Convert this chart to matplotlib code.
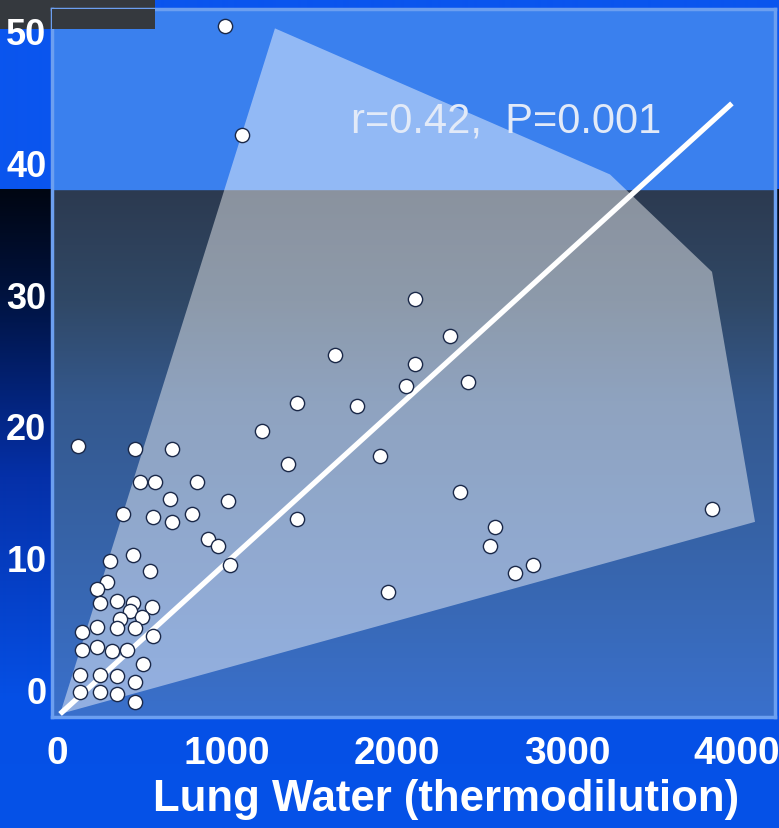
import numpy as np
import matplotlib
matplotlib.use("Agg")
import matplotlib.pyplot as plt
from matplotlib.colors import to_rgb
from matplotlib.patches import Polygon, Rectangle

# scatter: lung water (thermodilution) vs second measure
lung_water = [988, 1088, 124, 459, 676, 488, 576, 824, 665, 1006, 388, 565, 676, 794,
              888, 947, 1018, 1412, 1765, 1206, 1359, 1900, 2371, 1412, 1947, 1635,
              2106, 2312, 2106, 2053, 2418, 2576, 2547, 2694, 2800, 3853,
              447, 312, 547, 294, 235, 253, 353, 447, 559, 429, 371, 500, 147, 235,
              353, 459, 565, 147, 235, 324, 412, 506, 135, 253, 353, 459, 135, 253,
              353, 459]
other = [50.4, 42.1, 18.5, 18.2, 18.2, 15.7, 15.7, 15.7, 14.4, 14.3, 13.3, 13.1, 12.7, 13.3,
         11.4, 10.9, 9.4, 21.7, 21.5, 19.6, 17.1, 17.7, 15.0, 12.9, 7.4, 25.4,
         29.6, 26.8, 24.7, 23.0, 23.3, 12.3, 10.9, 8.8, 9.4, 13.7,
         10.2, 9.7, 9.0, 8.1, 7.6, 6.5, 6.7, 6.5, 6.2, 5.9, 5.3, 5.5, 4.3, 4.7,
         4.6, 4.6, 4.0, 3.0, 3.2, 2.9, 3.0, 1.9, 1.1, 1.1, 1.0, 0.5, -0.2, -0.2,
         -0.4, -1.0]

# shaded envelope around the points
hull_x = [18, 1282, 3253, 3853, 4106]
hull_y = [-1.9, 50.2, 39.1, 31.7, 12.7]

# regression line
fit_slope = 0.01174
fit_icpt = -2.11
fit_range = [18, 3970]

x_ticks = [0, 1000, 2000, 3000, 4000]
y_ticks = [0, 10, 20, 30, 40, 50]
stat_text = "r=0.42,  P=0.001"


def ramp(stops, n):
    pos = np.array([s[0] for s in stops])
    cols = np.array([to_rgb(s[1]) for s in stops])
    t = np.linspace(0, 1, n)
    return np.stack([np.interp(t, pos, cols[:, i]) for i in range(3)], axis=1)


W, H = 779, 829
fig = plt.figure(figsize=(W / 100, H / 100), dpi=100, facecolor="#0650e6")

# figure background: bright blue on top, dark-to-blue ramp below
bg = fig.add_axes([0, 0, 1, 1], zorder=0)
rows = np.zeros((H, 3))
rows[:190] = to_rgb("#0a55ee")
rows[190:] = ramp([(0, "#000612"), (0.15, "#00113a"), (0.45, "#0530a8"),
                   (0.8, "#0550e6"), (1, "#0652e8")], H - 190)
bg.imshow(rows[:, None, :], extent=[0, 1, 0, 1], aspect="auto", interpolation="bilinear")
bg.set_xlim(0, 1)
bg.set_ylim(0, 1)
# dark scrap in the top-left corner
bg.add_patch(Rectangle((0, 1 - 30 / H), 155 / W, 30 / H, fc="#35393e", ec="none"))
bg.axis("off")

L, R, T, B = 52, 775, 10, 718
ax = fig.add_axes([L / W, 1 - B / H, (R - L) / W, (B - T) / H], zorder=1)
x0, x1 = (L - 57) / 0.17, (R - 57) / 0.17
y0, y1 = (690 - B) / 13.16, (690 - T) / 13.16
band = (690 - 190) / 13.16
ax.set_xlim(x0, x1)
ax.set_ylim(y0, y1)

grad = ramp([(0, "#2c3a50"), (0.21, "#304866"), (0.4, "#34588c"),
             (0.78, "#3868b4"), (1, "#3a70cc")], 200)
ax.imshow(grad[:, None, :], extent=[x0, x1, y0, band], aspect="auto",
          interpolation="bilinear", zorder=0)
ax.axhspan(band, y1, color="#3a80ee", zorder=0)

ax.add_patch(Polygon(np.column_stack([hull_x, hull_y]), closed=True,
                     fc="white", alpha=0.45, ec="none", zorder=1))

fx = np.array(fit_range)
ax.plot(fx, fit_icpt + fit_slope * fx, color="white", lw=3.8, zorder=2,
        solid_capstyle="butt")

ax.scatter(lung_water, other, s=105, c="white", edgecolors="#1a2848",
           linewidths=1.0, zorder=3)

ax.text(2641, 43.2, stat_text, ha="center", va="center", fontsize=30,
        color="#e2eaf8", family="Liberation Sans", zorder=4)

# the scrap continues over the top of the plot
ax.add_patch(Rectangle((0, 1 - 20 / (B - T)), (155 - L) / (R - L), 20 / (B - T),
                       transform=ax.transAxes, fc="#35393e", ec="none", zorder=5))

ax.set_xticks(x_ticks)
ax.set_yticks(y_ticks)
ax.tick_params(length=0, labelcolor="white")
ax.tick_params(axis="x", pad=13, labelsize=28)
ax.tick_params(axis="y", pad=4, labelsize=26)
for lab in ax.get_xticklabels() + ax.get_yticklabels():
    lab.set_family("Liberation Sans")
    lab.set_fontweight("bold")
ax.set_xlabel("Lung Water (thermodilution)", fontsize=31.5, fontweight="bold",
              family="Liberation Sans", color="white")
ax.xaxis.set_label_coords((446 - L) / (R - L), -(800 - B) / (B - T))
ax.xaxis.label.set_va("center")
for sp in ax.spines.values():
    sp.set_color("#6c9ff0")
    sp.set_linewidth(2.5)
ax.set_facecolor("none")

fig.savefig("out.png", dpi=100, facecolor=fig.get_facecolor())
